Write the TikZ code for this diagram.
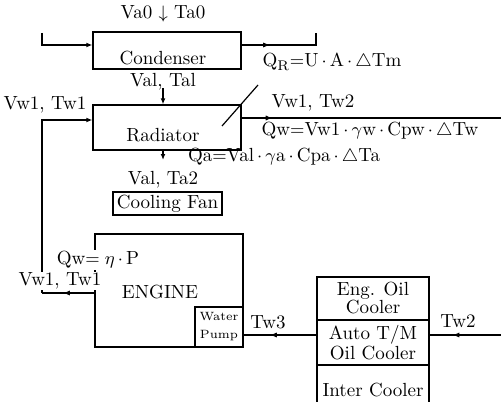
\documentclass[tikz,border=0pt]{standalone}
\usetikzlibrary{arrows.meta,decorations.markings}
\begin{document}
\begin{tikzpicture}[x=0.5pt,y=-0.5pt,
  font=\fontsize{9.5}{11}\selectfont,
  box/.style={draw,line width=0.6pt,inner sep=0pt},
  wire/.style={line width=0.6pt},
  arr/.style={wire,-{Latex[length=3pt,width=2.4pt]}},
  midarr/.style={wire,postaction={decorate},
    decoration={markings,mark=at position #1 with {\arrow{Latex[length=3.5pt,width=2.6pt]}}}},
  lbl/.style={inner sep=1pt},
  cover/.style={fill=white,inner sep=0.5pt}
]
\useasboundingbox (0,0) rectangle (501,401);
\clip (0,0) rectangle (501,401);
% boxes
\node[box,minimum width=74pt,minimum height=18.5pt] (cond) at (167,50.5) {};
\node[box,minimum width=74pt,minimum height=22.5pt] (rad) at (167,127.5) {};
\node[box,minimum width=54.5pt,minimum height=11.5pt] (fan) at (167.5,203.5) {Cooling Fan};
\node[box,minimum width=74pt,minimum height=56.5pt] (eng) at (169,290.5) {};
\node[box,minimum width=24pt,minimum height=20pt,align=center,
  font=\fontsize{6}{9}\selectfont] (pump) at (219,327) {Water\\Pump};
\node[box,minimum width=56pt,minimum height=21.5pt,align=center,
  font=\fontsize{9.5}{9}\selectfont] (eoc) at (373,298.5) {Eng. Oil\\Cooler};
\node[box,minimum width=56pt,minimum height=22.5pt,align=center,
  font=\fontsize{9.5}{9}\selectfont] (atm) at (373,342.5) {Auto T/M\\Oil Cooler};
\node[box,minimum width=56pt,minimum height=25pt] (ic) at (373,390) {Inter Cooler};
% free ends
\coordinate (cin) at (42,33);
\coordinate (cout) at (316,33);
\coordinate (radout) at (501,118);
\coordinate (ret) at (42,293);
\coordinate (tw2in) at (501,335);
\coordinate (qrfoot) at (222,126);
\coordinate (qrtip) at (258,85);
\coordinate (valtop) at (163,88);
\coordinate (ta2) at (163,160);
% connectors
\draw[arr] (cin) |- ([yshift=2.75pt]cond.west);
\draw[midarr=0.33] ([yshift=2.75pt]cond.east) -| (cout);
\draw[arr] (valtop) -- (valtop |- rad.north);
\draw[arr] (ta2 |- rad.south) -- (ta2);
\draw[midarr=0.12] ([yshift=4.75pt]rad.east) -- (radout);
\draw[midarr=0.6] ([yshift=-1.25pt]eng.west) -- (ret);
\draw[arr] (ret) |- ([yshift=3.75pt]rad.west);
\draw[midarr=0.64] ([yshift=3.75pt]atm.west) -- ([yshift=-4pt]pump.east);
\draw[midarr=0.68] (tw2in) -- ([yshift=3.75pt]atm.east);
\draw[wire] (qrfoot) -- (qrtip);
% labels
\node[lbl] (va0) at (163,14) {Va0 {\small$\downarrow$} Ta0};
\node[lbl] (condtxt) at (163,58) {Condenser};
\node[lbl] (val) at (163,82) {Val, Tal};
\node[lbl] (radtxt) at (163,135) {Radiator};
\node[cover] (vw1in) at (45,105) {Vw1, Tw1};
\node[lbl] (qr) at (332,62) {Q$_{\mathrm{R}}$$=$U$\,\cdot\,$A$\,\cdot\,\triangle$Tm};
\node[lbl] (vw2) at (313,103) {Vw1, Tw2};
\node[lbl] (qw) at (370,131) {Qw$=$Vw1$\,\cdot\,\gamma$w$\,\cdot\,$Cpw$\,\cdot\,\triangle$Tw};
\node[lbl] (qa) at (284,157) {Qa$=$Val$\,\cdot\,\gamma$a$\,\cdot\,$Cpa$\,\cdot\,\triangle$Ta};
\node[lbl] (ta2lbl) at (163,180) {Val, Ta2};
\node[cover] (qweng) at (98,260) {Qw$=\eta\,\cdot\,$P};
\node[cover] (vw1out) at (60,281) {Vw1, Tw1};
\node[lbl] (engtxt) at (160,292) {ENGINE};
\node[lbl] (tw3) at (268,322) {Tw3};
\node[lbl] (tw2lbl) at (458,321) {Tw2};
\end{tikzpicture}
\end{document}
